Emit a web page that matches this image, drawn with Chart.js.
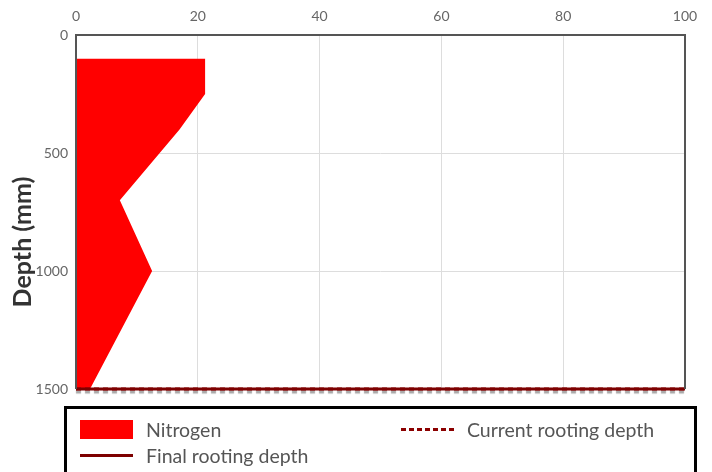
<!DOCTYPE html>
<html>
<head>
<meta charset="utf-8">
<script src="https://cdn.jsdelivr.net/npm/chart.js@4.4.0/dist/chart.umd.min.js"></script>
<style>
    html, body { margin: 0; padding: 0; background: #fff; }
    #wrap { position: relative; width: 712px; height: 472px; overflow: hidden; }
    #legend {
        position: absolute; left: 64px; top: 406px; width: 633px; height: 90px;
        box-sizing: border-box; border: 3px solid #000; padding: 7px 0 0 13px;
        display: grid; grid-template-columns: 321px auto; grid-auto-rows: 26px;
        font-family: Lato, sans-serif; font-size: 19.5px; color: #555;
    }
    .item { display: flex; align-items: center; white-space: nowrap; }
    .swatch { width: 53px; margin-right: 13px; flex: none; }
</style>
</head>
<body>
<div id="wrap">
    <canvas id="depthChart" width="712" height="472"></canvas>
    <div id="legend"></div>
</div>
<script>
// Soil profile data (depth in mm, nitrogen value)
const depths = [100, 250, 400, 700, 1000, 1500];
const nitrogen = [21.2, 21.2, 17.0, 7.2, 12.5, 2.3];

// Rooting depth lines span the whole x range
const rootX = [0, 100];
const currentRootDepth = [1500, 1500];
const finalRootDepth = [1500, 1500];

const xTicks = [0, 20, 40, 60, 80, 100];
const yTicks = [0, 500, 1000, 1500];

const maroon = '#7d0000';

function toPoints(xs, ys) {
    return xs.map((x, i) => ({ x: x, y: ys[i] }));
}

// frame around the plot (left, top, right)
const framePlugin = {
    id: 'frame',
    afterDatasetsDraw(chart) {
        const { ctx, chartArea: a } = chart;
        ctx.save();
        ctx.strokeStyle = '#555';
        ctx.lineWidth = 2;
        ctx.beginPath();
        ctx.moveTo(a.left, a.bottom);
        ctx.lineTo(a.left, a.top);
        ctx.lineTo(a.right, a.top);
        ctx.lineTo(a.right, a.bottom);
        ctx.stroke();
        ctx.restore();
    }
};

// shadow under the dotted current rooting line
const shadowPlugin = {
    id: 'lineShadow',
    beforeDatasetDraw(chart, args) {
        if (args.meta.label !== 'Current rooting depth') return;
        const ctx = chart.ctx;
        ctx.save();
        ctx.shadowColor = 'rgba(60,60,60,0.45)';
        ctx.shadowOffsetY = 3;
        ctx.shadowBlur = 1;
    },
    afterDatasetDraw(chart, args) {
        if (args.meta.label !== 'Current rooting depth') return;
        chart.ctx.restore();
    }
};

const yTitlePlugin = {
    id: 'yTitle',
    afterDraw(chart) {
        const ctx = chart.ctx;
        ctx.save();
        ctx.translate(23, 242);
        ctx.rotate(-Math.PI / 2);
        ctx.font = 'bold 25px Lato';
        ctx.fillStyle = '#333';
        ctx.textAlign = 'center';
        ctx.textBaseline = 'middle';
        ctx.fillText('Depth (mm)', 0, 0);
        ctx.restore();
    }
};

const chart = new Chart(document.getElementById('depthChart'), {
    type: 'line',
    data: {
        datasets: [
            {
                label: 'Nitrogen',
                data: toPoints(nitrogen, depths),
                backgroundColor: '#ff0000',
                borderColor: '#ff0000',
                borderWidth: 0,
                fill: 'origin',
                pointRadius: 0,
                tension: 0,
                order: 3
            },
            {
                label: 'Current rooting depth',
                data: toPoints(rootX, currentRootDepth),
                borderColor: '#8b0000',
                borderWidth: 3,
                borderDash: [5, 4],
                pointRadius: 0,
                fill: false,
                clip: false,
                order: 2
            },
            {
                label: 'Final rooting depth',
                data: toPoints(rootX, finalRootDepth),
                borderColor: maroon,
                borderWidth: 3,
                pointRadius: 0,
                fill: false,
                clip: false,
                order: 1
            }
        ]
    },
    options: {
        responsive: false,
        animation: false,
        indexAxis: 'y',
        layout: { padding: { left: 30, top: 10, right: 27, bottom: 83 } },
        scales: {
            x: {
                type: 'linear',
                position: 'top',
                min: 0,
                max: 100,
                afterBuildTicks: s => { s.ticks = xTicks.map(v => ({ value: v })); },
                afterFit: s => { s.height = 25; },
                grid: { color: '#ddd', drawTicks: false },
                border: { display: false },
                ticks: {
                    color: '#666', padding: 10, font: { family: 'Lato', size: 14 },
                    callback: v => String(v)
                }
            },
            y: {
                type: 'linear',
                reverse: true,
                min: 0,
                max: 1500,
                afterBuildTicks: s => { s.ticks = yTicks.map(v => ({ value: v })); },
                afterFit: s => { s.width = 46; },
                grid: { color: '#ddd', drawTicks: false },
                border: { display: false },
                ticks: {
                    color: '#666', padding: 8, font: { family: 'Lato', size: 14 },
                    callback: v => String(v)
                }
            }
        },
        plugins: {
            legend: { display: false },
            tooltip: { enabled: false }
        }
    },
    plugins: [framePlugin, shadowPlugin, yTitlePlugin]
});

// HTML legend: Nitrogen, Current rooting depth / Final rooting depth
function buildLegend(chart) {
    const box = document.getElementById('legend');
    box.innerHTML = '';
    chart.data.datasets.forEach(ds => {
        const item = document.createElement('div');
        item.className = 'item';
        const sw = document.createElement('span');
        sw.className = 'swatch';
        if (ds.fill === 'origin') {
            sw.style.height = '19px';
            sw.style.background = ds.backgroundColor;
        } else if (ds.borderDash) {
            sw.style.height = '3px';
            sw.style.background = `repeating-linear-gradient(90deg, ${ds.borderColor} 0 5px, transparent 5px 8px)`;
        } else {
            sw.style.height = '3px';
            sw.style.background = ds.borderColor;
        }
        const txt = document.createElement('span');
        txt.innerText = ds.label;
        item.appendChild(sw);
        item.appendChild(txt);
        box.appendChild(item);
    });
}
buildLegend(chart);
</script>
</body>
</html>
